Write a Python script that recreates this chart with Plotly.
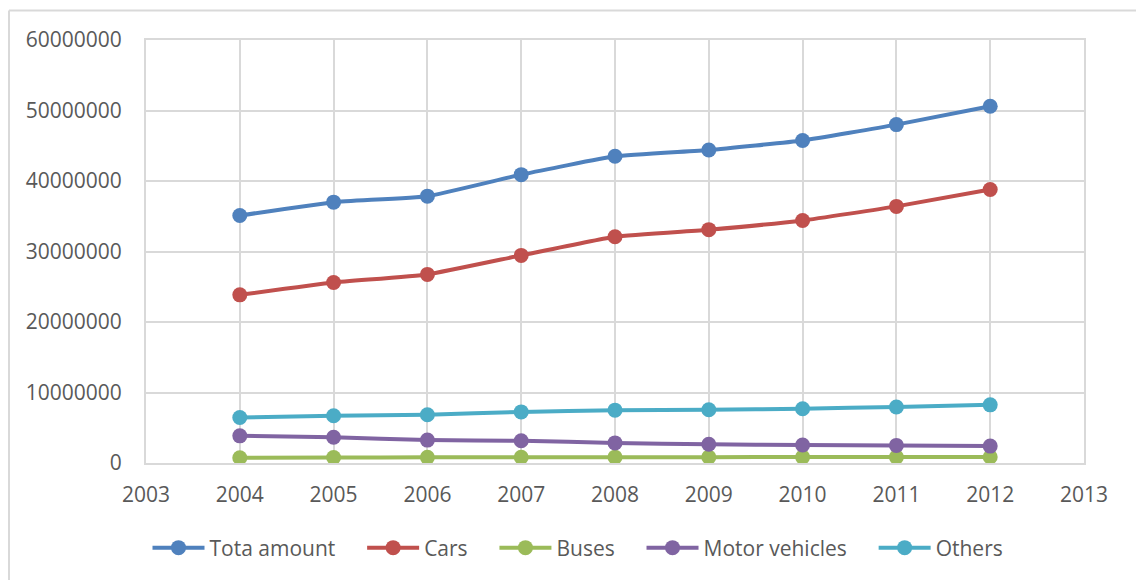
import plotly.graph_objects as go

years = [2004, 2005, 2006, 2007, 2008, 2009, 2010, 2011, 2012]
total = [35100000, 37000000, 37850000, 40900000, 43500000, 44400000, 45750000, 48000000, 50600000]
cars = [23850000, 25600000, 26750000, 29450000, 32100000, 33100000, 34400000, 36400000, 38800000]
buses = [750000, 780000, 800000, 820000, 830000, 830000, 840000, 840000, 850000]
motor = [3850000, 3650000, 3250000, 3150000, 2850000, 2650000, 2550000, 2500000, 2400000]
others = [6450000, 6700000, 6850000, 7250000, 7500000, 7550000, 7700000, 7950000, 8250000]

names = ["Tota amount", "Cars", "Buses", "Motor vehicles", "Others"]
colors = ["#4F81BD", "#C0504D", "#9BBB59", "#8064A2", "#4BACC6"]
series = [total, cars, buses, motor, others]

PAD = "\u00a0" * 4

fig = go.Figure()
for i, (name, vals, col) in enumerate(zip(names, series, colors)):
    label = name + (PAD if i < len(names) - 1 else "")
    fig.add_trace(go.Scatter(
        x=years, y=vals, name=label, mode="lines+markers",
        line=dict(color=col, width=4, shape="spline", smoothing=0.4),
        marker=dict(color=col, size=15),
    ))

font_family = "Open Sans, Liberation Sans, sans-serif"
W, H = 1136, 580
L, R, T, B = 146, 52, 40, 117
pw, ph = W - L - R, H - T - B

fig.update_layout(
    width=W, height=H,
    margin=dict(l=L, r=R, t=T, b=B),
    paper_bgcolor="white", plot_bgcolor="white",
    font=dict(family=font_family, size=21, color="#595959"),
    xaxis=dict(range=[2003, 2013], dtick=1, tick0=2003, showgrid=True,
               gridcolor="#D9D9D9", gridwidth=1.5, showline=True, linecolor="#D9D9D9",
               linewidth=2, mirror=True, zeroline=False,
               ticks="outside", ticklen=12, tickcolor="rgba(0,0,0,0)",
               tickfont=dict(size=21, color="#595959")),
    yaxis=dict(range=[0, 60000000], dtick=10000000, showgrid=True,
               gridcolor="#D9D9D9", gridwidth=1.5, showline=True, linecolor="#D9D9D9",
               linewidth=2, mirror=True, zeroline=False, tickformat="d",
               ticks="outside", ticklen=18, tickcolor="rgba(0,0,0,0)",
               tickfont=dict(size=21, color="#595959")),
    legend=dict(orientation="h", xref="container", yref="container",
                x=578 / W, xanchor="center", y=1 - 548 / H, yanchor="middle",
                font=dict(size=21, color="#595959"), itemwidth=52,
                traceorder="normal"),
    shapes=[
        dict(type="line", xref="paper", yref="paper",
             x0=(9 - L) / pw, x1=(W - L) / pw,
             y0=(H - B - 10.5) / ph, y1=(H - B - 10.5) / ph,
             line=dict(color="#D9D9D9", width=2)),
        dict(type="line", xref="paper", yref="paper",
             x0=(9 - L) / pw, x1=(9 - L) / pw,
             y0=(H - B - 10.5) / ph, y1=-B / ph,
             line=dict(color="#D9D9D9", width=2)),
    ],
)

fig.write_html("out.html", config={"displayModeBar": False},
               post_script="document.body.style.margin='0';document.body.style.padding='0';")
